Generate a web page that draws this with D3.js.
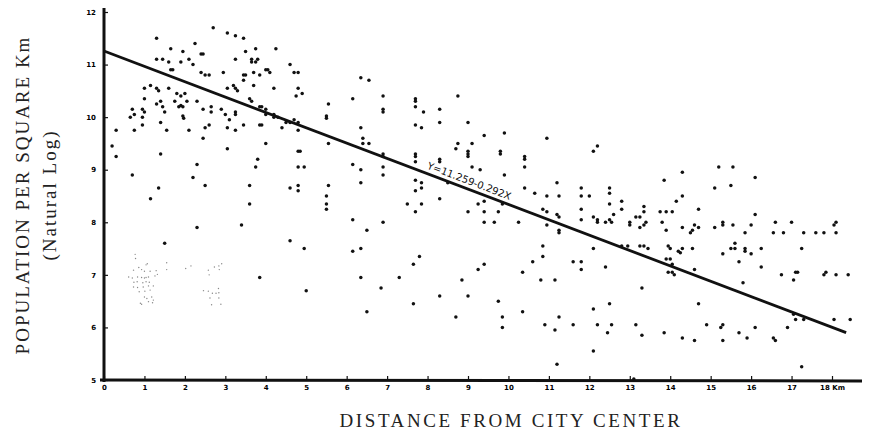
<!DOCTYPE html>
<html lang="en">
<head>
<meta charset="UTF-8" />
<title>Population density gradient</title>
<style>
	* { margin: 0; padding: 0; }
	body { background: #fff; }
	.tick text { font-family: 'DejaVu Sans', sans-serif; font-weight: bold; font-size: 7px; }
	.title { font-family: 'Liberation Serif', 'DejaVu Serif', serif; font-size: 19px; fill: #222; letter-spacing: 2px; }
</style>
</head>
<body>
<svg id="chart" width="872" height="437"></svg>
<script src="https://d3js.org/d3.v7.min.js"></script>
<script>
// distance from centre (km), ln population per sq km
const points = [
	[2.7,11.7],[1.3,11.5],[3.05,11.6],[3.25,11.55],[3.45,11.5],[1.65,11.3],[1.95,11.25],[2.25,11.4],[2.4,11.2],[2.45,11.2],
	[3.5,11.25],[3.75,11.3],[4.25,11.3],[1.3,11.1],[1.45,11.1],[1.6,11.05],[1.9,11.05],[2.1,11.1],[2.2,11.0],[3.25,11.1],
	[3.65,11.1],[3.8,11.1],[3.65,11.05],[3.75,11.05],[1.65,10.9],[1.7,10.9],[2.4,10.85],[2.5,10.8],[2.6,10.8],[2.95,10.85],
	[3.45,10.8],[3.5,10.8],[3.7,10.85],[3.85,10.8],[4.0,10.9],[4.05,10.9],[4.1,10.85],[4.6,11.0],[4.7,10.85],[4.8,10.85],
	[3.45,10.7],[3.7,10.6],[3.2,10.6],[3.25,10.55],[3.3,10.5],[3.05,10.55],[4.2,10.55],[4.8,10.55],[4.9,10.45],[4.75,10.4],
	[5.55,10.25],[1.0,10.55],[1.15,10.6],[1.3,10.55],[1.35,10.5],[1.6,10.55],[1.8,10.45],[1.9,10.4],[2.0,10.45],[2.05,10.3],
	[2.3,10.3],[1.75,10.3],[1.4,10.3],[1.0,10.35],[1.3,10.25],[1.45,10.2],[1.5,10.1],[1.85,10.2],[1.9,10.22],[1.95,10.2],
	[0.95,10.15],[1.0,10.1],[0.95,10.0],[0.7,10.15],[0.65,10.0],[0.75,10.05],[1.95,10.02],[1.97,9.98],[2.45,10.15],[2.65,10.2],
	[2.65,10.1],[2.9,10.15],[3.0,10.05],[3.1,9.95],[3.25,10.1],[3.25,10.05],[3.6,10.35],[3.65,10.3],[3.85,10.2],[3.9,10.2],
	[4.0,10.15],[4.0,10.05],[4.2,10.05],[3.85,9.85],[3.9,9.85],[4.2,10.0],[4.3,10.0],[4.4,9.8],[4.5,9.9],[4.6,9.9],
	[4.7,9.95],[4.8,9.9],[4.8,9.75],[5.5,10.02],[5.5,9.98],[5.55,9.5],[0.3,9.75],[0.75,9.75],[0.95,9.85],[1.55,9.75],
	[1.4,9.9],[2.1,9.75],[2.5,9.8],[2.45,9.6],[2.6,9.85],[3.05,9.8],[3.25,9.75],[3.45,9.85],[0.2,9.45],[0.3,9.25],
	[1.4,9.3],[2.3,9.1],[3.05,9.4],[4.0,9.5],[3.8,9.2],[3.75,9.05],[4.8,9.35],[4.85,9.35],[4.8,9.05],[4.95,9.05],
	[0.7,8.9],[2.2,8.85],[1.35,8.65],[2.5,8.7],[3.6,8.7],[4.6,8.65],[4.8,8.7],[4.8,8.6],[5.55,8.7],[5.5,8.5],
	[5.5,8.35],[5.5,8.25],[1.15,8.45],[3.6,8.35],[2.3,7.9],[3.4,7.95],[4.6,7.65],[4.95,7.5],[1.5,7.6],[3.85,6.95],
	[5.0,6.7],
	[6.35,10.75],[6.55,10.7],[6.15,10.35],[6.9,10.4],[6.9,10.15],[6.9,10.1],[7.7,10.35],[7.7,10.3],[7.7,10.2],[7.9,10.1],
	[8.3,10.15],[8.75,10.4],[7.7,9.85],[7.85,9.8],[8.3,9.9],[9.0,9.9],[6.35,9.8],[6.4,9.6],[6.4,9.5],[6.55,9.5],
	[9.4,9.65],[9.9,9.7],[10.95,9.6],[8.75,9.5],[8.7,9.4],[9.1,9.5],[9.0,9.35],[9.0,9.3],[9.0,9.25],[9.8,9.35],
	[9.8,9.3],[10.4,9.25],[10.4,9.2],[10.4,9.05],[6.9,9.3],[6.9,9.25],[7.7,9.3],[7.7,9.25],[7.7,9.15],[8.3,9.2],
	[8.3,9.15],[9.1,9.05],[9.3,9.0],[9.9,8.9],[6.15,9.1],[6.35,9.0],[6.9,9.05],[6.9,8.9],[6.35,8.75],[7.7,8.8],
	[7.85,8.75],[7.85,8.65],[7.7,8.6],[7.5,8.35],[7.85,8.35],[7.7,8.2],[8.3,8.45],[8.5,8.75],[10.4,8.65],[10.65,8.55],
	[10.95,8.5],[11.2,8.75],[11.25,8.5],[11.8,8.65],[11.8,8.5],[11.8,8.25],[11.8,8.05],[12.0,8.5],[9.25,8.35],[9.4,8.4],
	[9.85,8.35],[9.75,8.2],[9.0,8.2],[9.4,8.2],[9.4,8.0],[9.65,8.0],[10.25,8.0],[10.85,8.25],[10.95,8.2],[11.2,8.15],
	[11.25,8.1],[10.95,7.95],[11.25,7.85],[11.25,7.8],[6.15,8.05],[6.5,7.85],[6.9,8.0],[10.85,7.55],[10.85,7.35],[10.6,7.25],
	[11.6,7.25],[11.8,7.25],[11.8,7.1],[10.35,7.05],[10.8,6.9],[11.15,6.9],[6.15,7.45],[6.35,7.5],[7.8,7.35],[7.65,7.2],
	[9.25,7.1],[9.4,7.2],[6.35,6.95],[7.3,6.95],[6.85,6.75],[8.85,6.9],[8.3,6.6],[9.0,6.6],[7.65,6.45],[9.75,6.5],
	[10.35,6.3],[6.5,6.3],[8.7,6.2],[9.85,6.2],[9.85,6.0],[10.9,6.05],[11.15,5.95],[11.25,6.2],[11.6,6.05],
	[11.2,5.3],[12.1,5.55],[13.1,5.02],[17.25,5.25],
	[12.1,9.35],[12.2,9.45],[12.5,8.65],[12.5,8.55],[12.5,8.35],[12.8,8.4],[12.8,8.25],[12.6,8.15],[12.1,8.1],[12.2,8.05],
	[12.2,8.0],[12.4,8.0],[12.5,8.05],[12.55,8.0],[13.0,8.0],[13.0,7.95],[13.15,8.1],[13.25,8.1],[13.35,8.3],[13.35,8.2],
	[13.4,8.0],[13.35,7.95],[13.25,7.9],[13.85,8.8],[14.3,8.95],[14.3,8.5],[14.15,8.4],[13.75,8.2],[13.9,8.2],[14.05,8.2],
	[13.8,8.0],[13.9,7.85],[14.3,7.9],[14.7,8.25],[14.6,7.95],[14.55,7.85],[14.5,7.8],[14.7,7.9],[15.1,8.65],[15.2,9.05],
	[15.1,7.9],[15.3,8.0],[15.3,7.95],[12.1,7.5],[12.8,7.55],[12.95,7.55],[13.25,7.55],[13.35,7.55],[13.45,7.5],[13.95,7.55],
	[14.0,7.5],[14.2,7.45],[14.25,7.42],[14.3,7.5],[14.55,7.5],[13.9,7.3],[14.0,7.3],[14.05,7.2],[13.95,7.05],[14.05,7.05],
	[14.1,7.0],[14.6,7.1],[15.3,7.4],[12.4,7.15],[13.3,6.75],[12.1,6.35],[12.5,6.45],[14.7,6.45],[12.2,6.05],[12.55,6.05],
	[12.45,5.9],[13.15,6.05],[13.3,5.85],[13.85,5.9],[14.3,5.8],[14.6,5.75],[14.9,6.05],[15.25,6.0],[15.3,6.05],[15.3,5.75],
	[15.55,9.05],[16.1,8.85],[15.5,8.7],[16.1,8.15],[15.55,7.95],[16.0,7.95],[16.6,8.0],[17.0,8.0],[15.85,7.8],[16.55,7.8],
	[16.8,7.8],[17.3,7.8],[17.6,7.8],[17.8,7.8],[18.05,7.95],[18.1,8.0],[18.1,7.8],[15.6,7.6],[15.5,7.5],[15.6,7.5],
	[15.85,7.5],[15.85,7.45],[16.0,7.4],[16.25,7.5],[17.25,7.5],[15.7,7.25],[16.25,7.15],[16.75,7.0],[17.05,6.9],[17.1,7.05],
	[17.15,7.05],[17.8,7.0],[17.85,7.05],[18.1,7.0],[18.4,7.0],[15.8,6.85],[15.7,5.9],[15.9,5.8],[16.1,6.0],[16.55,5.8],
	[16.6,5.75],[16.9,6.0],[17.05,6.25],[17.1,6.15],[17.3,6.15],[18.05,6.15],[18.45,6.15]
];

// faint, lightly printed dots near the centre
const faintPoints = [
	[0.77,7.39],[0.78,7.31],[1.04,7.19],[1.07,7.21],[0.86,7.14],[0.93,7.10],[0.73,7.09],[1.0,7.07],[1.14,7.07],[1.29,7.08],
	[0.61,6.96],[0.70,6.94],[0.83,6.96],[0.93,6.95],[1.0,6.94],[1.04,6.95],[1.10,6.96],[1.26,6.98],[1.32,7.01],[0.74,6.86],
	[0.82,6.87],[0.96,6.85],[1.04,6.87],[1.12,6.86],[0.73,6.77],[0.83,6.76],[0.97,6.77],[1.10,6.79],[1.22,6.79],[0.87,6.68],
	[1.01,6.69],[1.14,6.71],[1.0,6.58],[1.06,6.55],[1.18,6.58],[0.90,6.46],[0.93,6.44],[1.10,6.49],[1.20,6.47],[1.22,6.52],
	[1.55,7.23],[1.55,7.10],[2.02,7.12],[2.15,7.17],
	[2.91,7.21],[2.84,7.17],[2.73,7.15],[2.85,7.10],[2.58,7.09],[2.6,7.0],[2.46,6.70],[2.58,6.69],[2.68,6.65],[2.77,6.65],
	[2.84,6.66],[2.83,6.74],[2.62,6.56],[2.84,6.56],[2.66,6.43],[2.89,6.44]
];

const xTicks = d3.range(0, 19);
const xTickLabels = ['0','1','2','3','4','5','6','7','8','9','10','11','12','13','14','15','16','17','18 Km'];
const yTicks = [5, 6, 7, 8, 9, 10, 11, 12];
const intercept = 11.259, slope = -0.292;
const fitRange = [0, 18.35];

const svg = d3.select('#chart');
const x = d3.scaleLinear().domain([0, 18]).range([104, 832]);
const y = d3.scaleLinear().domain([5, 12]).range([380, 12]);

// axes
const xAxis = svg.append('g')
	.attr('transform', 'translate(0,380)')
	.call(d3.axisBottom(x).tickValues(xTicks).tickSize(-4).tickPadding(5)
		.tickFormat((d, i) => xTickLabels[i]));
xAxis.select('.domain').remove();
xAxis.selectAll('.tick line').attr('stroke', '#111').attr('stroke-width', 1.2);
svg.append('line')
	.attr('x1', 100).attr('x2', 862).attr('y1', 380).attr('y2', 381)
	.attr('stroke', '#111').attr('stroke-width', 3);

const yAxis = svg.append('g')
	.attr('transform', 'translate(104,0)')
	.call(d3.axisLeft(y).tickValues(yTicks).tickSize(-4).tickPadding(8)
		.tickFormat(d3.format('d')));
yAxis.select('.domain').remove();
yAxis.selectAll('.tick line').attr('stroke', '#111').attr('stroke-width', 1.2);
svg.append('line')
	.attr('x1', 104).attr('x2', 104).attr('y1', 8).attr('y2', 382)
	.attr('stroke', '#111').attr('stroke-width', 3);

// faint dots
svg.append('g').selectAll('circle')
	.data(faintPoints)
	.join('circle')
	.attr('cx', d => x(d[0]))
	.attr('cy', d => y(d[1]))
	.attr('r', 0.7)
	.attr('fill', '#888');

// points
svg.append('g').selectAll('circle')
	.data(points)
	.join('circle')
	.attr('cx', d => x(d[0]))
	.attr('cy', d => y(d[1]))
	.attr('r', 1.75)
	.attr('fill', '#111');

// regression line
svg.append('line')
	.attr('x1', x(fitRange[0])).attr('y1', y(intercept + slope * fitRange[0]))
	.attr('x2', x(fitRange[1])).attr('y2', y(intercept + slope * fitRange[1]))
	.attr('stroke', '#111').attr('stroke-width', 2.8);

const angle = Math.atan2(y(intercept + slope * 10) - y(intercept), x(10) - x(0)) * 180 / Math.PI;
const lx = 9.0;
svg.append('text')
	.attr('transform', `translate(${x(lx)},${y(intercept + slope * lx) - 5}) rotate(${angle})`)
	.attr('text-anchor', 'middle')
	.style('font-family', 'DejaVu Sans, sans-serif')
	.style('font-size', '10px')
	.attr('fill', '#111')
	.text('Y=11.259-0.292X');

// titles
svg.append('text')
	.attr('class', 'title')
	.attr('transform', 'translate(29,195) rotate(-90)')
	.attr('text-anchor', 'middle')
	.text('POPULATION PER SQUARE Km');
svg.append('text')
	.attr('class', 'title')
	.attr('transform', 'translate(56,195) rotate(-90)')
	.attr('text-anchor', 'middle')
	.text('(Natural Log)');
svg.append('text')
	.attr('class', 'title')
	.attr('x', 511).attr('y', 427)
	.attr('text-anchor', 'middle')
	.style('letter-spacing', '2.6px')
	.text('DISTANCE FROM CITY CENTER');
</script>
</body>
</html>
